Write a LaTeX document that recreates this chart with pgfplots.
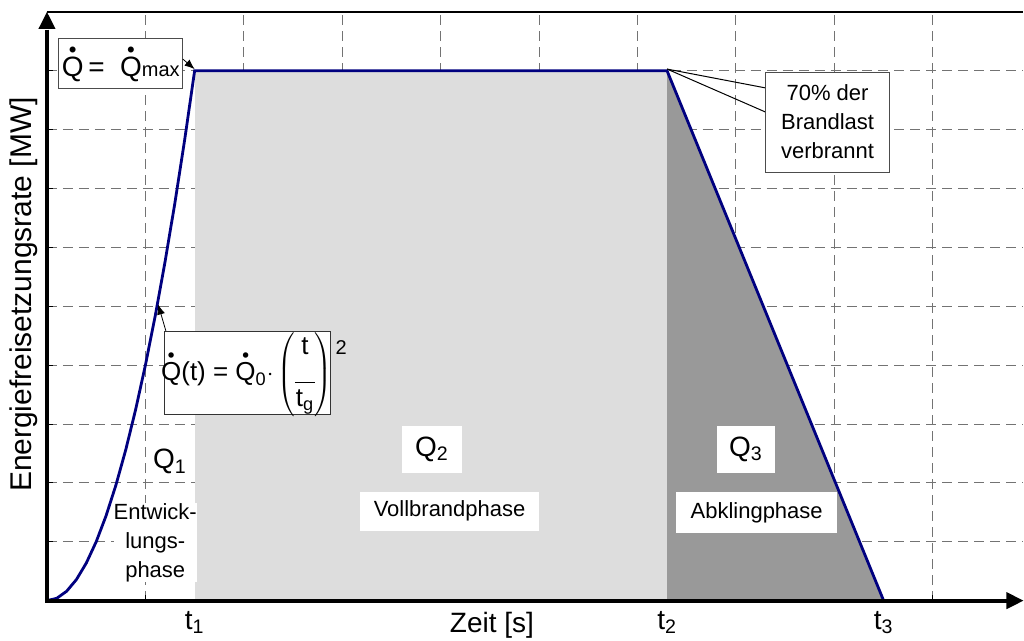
\documentclass[border=0pt]{standalone}
\usepackage{pgfplots}
\pgfplotsset{compat=1.18}
\usepackage{fontspec}
\setmainfont{Liberation Sans}
\usetikzlibrary{arrows.meta}
\definecolor{navy}{HTML}{00007F}
\definecolor{lgray}{HTML}{DDDDDD}
\definecolor{dgray}{HTML}{999999}
\pgfplotsset{layers/mylayers/.define layer set={axis background,axis grid,axis ticks,main,axis lines,axis tick labels,axis descriptions,axis foreground}{}}
\newcommand\Qd{\hbox{$\stackrel{\scriptscriptstyle\bullet}{\hbox{Q}}$}}
\newcommand\fbig{\fontsize{14}{16}\selectfont}
\newcommand\fmid{\fontsize{11}{14.5}\selectfont}
\begin{document}
\begin{tikzpicture}
\begin{axis}[
  set layers=mylayers,
  scale only axis, width=488.5pt, height=294.5pt,
  xmin=0, xmax=9.92, ymin=0, ymax=10,
  axis x line=bottom, axis y line=left,
  axis line style={draw=none},
  xtick={1,...,9}, ytick={1,...,9},
  xticklabels={}, yticklabels={},
  grid=major,
  major grid style={black!55, dash pattern=on 5pt off 3pt, line width=0.5pt},
  tick style={black, line width=0.5pt}, major tick length=3pt, tick align=inside,
  extra x ticks={1.5,6.3,8.5},
  extra x tick labels={t\textsubscript{1},t\textsubscript{2},t\textsubscript{3}},
  extra x tick style={grid=none, major tick length=0pt,
     tick label style={font=\fbig, anchor=north, inner sep=0pt, yshift=-5pt}},
  clip=false,
]
\addplot[fill=lgray, draw=none] coordinates {(1.5,0) (1.5,9) (6.3,9) (6.3,0)};
\addplot[fill=dgray, draw=none] coordinates {(6.3,0) (6.3,9) (8.5,0)};
\addplot[navy, line width=1.4pt] coordinates {
 (0,0) (0.1,0.04) (0.2,0.16) (0.3,0.36) (0.4,0.64) (0.5,1.0) (0.6,1.44)
 (0.7,1.96) (0.8,2.56) (0.9,3.24) (1.0,4.0) (1.1,4.84) (1.2,5.76)
 (1.3,6.76) (1.4,7.84) (1.5,9.0) (6.3,9.0) (8.5,0)};
\draw[line width=0.6pt] (rel axis cs:0,1) -- (rel axis cs:1,1);
\draw[line width=2pt, line join=miter] (rel axis cs:0,0.97) -- (rel axis cs:0,0) -- (rel axis cs:0.985,0);
\fill (rel axis cs:0,1) -- ++(-4.3pt,-8.5pt) -- ++(8.6pt,0) -- cycle;
\fill (rel axis cs:1,0) -- ++(-8.5pt,4.3pt) -- ++(0,-8.6pt) -- cycle;
% Qmax box
\node[draw=black!70, fill=white, line width=0.5pt, inner sep=1pt, minimum width=62pt, minimum height=25pt, font=\fbig]
  at (axis cs:0.75,9.13) {\Qd\,=\ \ \Qd{\fontsize{10}{12}\selectfont max}};
\draw[-{Latex[length=5pt,width=4pt]}, line width=0.4pt] (axis cs:1.38,9.2) -- (axis cs:1.5,9.03);
% 70% box
\draw[line width=0.5pt] (axis cs:6.3,9.03) -- (axis cs:7.3,8.71);
\draw[line width=0.5pt] (axis cs:6.3,9.03) -- (axis cs:7.3,8.30);
\node[draw=black!70, fill=white, line width=0.5pt, minimum width=62pt, minimum height=50pt, align=center, font=\fmid, inner sep=0pt]
  at (axis cs:7.93,8.13) {70\% der\\Brandlast\\verbrannt};
% formula box
\draw[-{Latex[length=5pt,width=4pt]}, line width=0.4pt] (axis cs:1.21,4.57) -- (axis cs:1.13,5.03);
\draw[black!80, fill=white, line width=0.5pt] (axis cs:1.19,3.16) rectangle (axis cs:2.88,4.57);
\node[font=\fontsize{13}{15}\selectfont, inner sep=0pt] at (axis cs:2.03,3.84)
  {\Qd(t) = \Qd\textsubscript{0}$\cdot\left(\vcenter{\hbox{\begin{tabular}{@{}c@{}}t\\[-1pt]\rule{10pt}{0.4pt}\\[-3pt]t\textsubscript{g}\end{tabular}}}\right)$};
\node[font=\fontsize{10}{12}\selectfont, inner sep=0pt] at (axis cs:2.99,4.3) {2};
% Q1
\node[font=\fbig, inner sep=1pt] at (axis cs:1.25,2.36) {Q\textsubscript{1}};
\node[font=\fmid, fill=white, align=center, inner sep=0pt] at (axis cs:1.10,0.985) {Entwick-\\lungs-\\phase};
% Q2
\node[fill=white, minimum width=30pt, minimum height=23.5pt, inner sep=0pt, font=\fbig] at (axis cs:3.91,2.57) {Q\textsubscript{2}};
\node[fill=white, minimum width=89.5pt, minimum height=19.5pt, inner sep=0pt, font=\fmid] at (axis cs:4.09,1.52) {Vollbrandphase};
% Q3
\node[fill=white, minimum width=29pt, minimum height=23.5pt, inner sep=0pt, font=\fbig] at (axis cs:7.10,2.57) {Q\textsubscript{3}};
\node[fill=white, minimum width=80.5pt, minimum height=20.5pt, inner sep=0pt, font=\fmid] at (axis cs:7.21,1.50) {Abklingphase};
% axis labels
\node[font=\fbig, anchor=north, inner sep=0pt] at (axis cs:4.52,-0.19) {Zeit [s]};
\node[font=\fontsize{15}{17}\selectfont, rotate=90, anchor=south, inner sep=0pt] at ([xshift=-4.5pt]rel axis cs:0,0.52) {Energiefreisetzungsrate [MW]};
\end{axis}
\path[use as bounding box] (-23.5pt,-20pt) rectangle (488.5pt,300.5pt);
\end{tikzpicture}
\end{document}
